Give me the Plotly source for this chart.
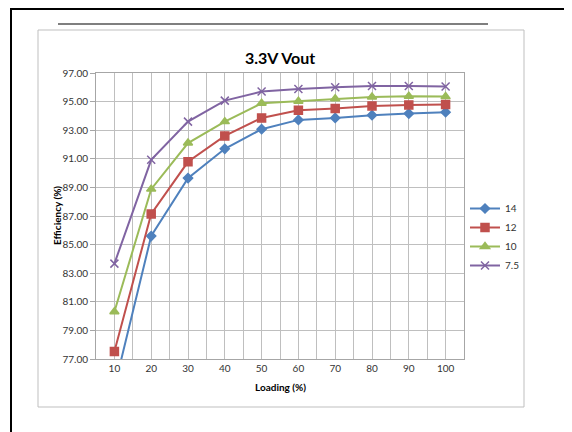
import plotly.graph_objects as go

loading = [10, 20, 30, 40, 50, 60, 70, 80, 90, 100]
series_names = ["14", "12", "10", "7.5"]
eff_14 = [75.0, 85.60, 89.65, 91.70, 93.07, 93.72, 93.86, 94.05, 94.16, 94.26]
eff_12 = [77.53, 87.14, 90.79, 92.60, 93.86, 94.40, 94.51, 94.70, 94.77, 94.79]
eff_10 = [80.30, 88.88, 92.10, 93.60, 94.88, 95.02, 95.20, 95.33, 95.37, 95.35]
eff_75 = [83.67, 90.93, 93.60, 95.07, 95.70, 95.88, 96.00, 96.09, 96.09, 96.05]
y_ticks = [77, 79, 81, 83, 85, 87, 89, 91, 93, 95, 97]

colors = ["#4F81BD", "#C0504D", "#9BBB59", "#8064A2"]
symbols = ["diamond", "square", "triangle-up", "x-thin-open"]
sizes = [7, 8, 8, 8]

# page has an 8px body margin; work in page coordinates and convert
OFF = 8
W, H = 572 - OFF, 432 - OFF
L, R, T, B = 96 - OFF, 464 - OFF, 73 - OFF, 359 - OFF

def px(x):
    return (x - OFF - L) / (R - L)

def py(y):
    return (B - (y - OFF)) / (B - T)

fig = go.Figure()
for name, vals, c, s, sz in zip(series_names, [eff_14, eff_12, eff_10, eff_75], colors, symbols, sizes):
    fig.add_trace(go.Scatter(
        x=loading, y=vals, name=name, mode="lines+markers",
        line=dict(color=c, width=2),
        marker=dict(symbol=s, size=sz, color=c, line=dict(color=c, width=1.5)),
        cliponaxis=True,
    ))

font = "Lato, 'DejaVu Sans', sans-serif"
fig.update_layout(
    width=W, height=H,
    margin=dict(l=L, r=W - R, t=T, b=H - B),
    paper_bgcolor="white", plot_bgcolor="white",
    font=dict(family=font, size=10, color="#333333"),
    showlegend=True,
    legend=dict(x=px(465), y=py(194), xanchor="left", yanchor="top",
                font=dict(size=10, color="#333333"), bgcolor="rgba(0,0,0,0)",
                itemwidth=30, tracegroupgap=0),
    xaxis=dict(range=[5, 105], tickvals=loading, ticktext=[str(v) for v in loading],
               showgrid=True, gridcolor="#BFBFBF", gridwidth=1,
               minor=dict(dtick=5, tick0=5, showgrid=True, gridcolor="#BFBFBF", gridwidth=1),
               showline=True, linecolor="#A6A6A6", mirror=True, ticks="",
               zeroline=False, tickfont=dict(size=10)),
    yaxis=dict(range=[77, 97], tickvals=y_ticks, tickformat=".2f",
               showgrid=True, gridcolor="#BFBFBF", gridwidth=1,
               showline=True, linecolor="#A6A6A6", mirror=True,
               ticks="outside", ticklen=5, tickcolor="#A6A6A6",
               zeroline=False, tickfont=dict(size=10)),
    annotations=[
        dict(text="<b>3.3V Vout</b>", x=px(280), y=py(58), xref="paper", yref="paper",
             showarrow=False, font=dict(size=16, color="#000000"), xanchor="center", yanchor="middle"),
        dict(text="<b>Efficiency (%)</b>", x=px(57), y=py(216), xref="paper", yref="paper",
             showarrow=False, textangle=-90, font=dict(size=10, color="#000000"),
             xanchor="center", yanchor="middle"),
        dict(text="<b>Loading (%)</b>", x=px(280), y=py(387), xref="paper", yref="paper",
             showarrow=False, font=dict(size=10, color="#000000"), xanchor="center", yanchor="middle"),
    ],
    shapes=[
        dict(type="rect", xref="paper", yref="paper", x0=px(11), x1=px(570), y0=py(9), y1=py(445),
             line=dict(color="#000000", width=2), layer="below"),
        dict(type="rect", xref="paper", yref="paper", x0=px(38), x1=px(524), y0=py(30), y1=py(407),
             line=dict(color="#BFBFBF", width=1), layer="below"),
        dict(type="line", xref="paper", yref="paper", x0=px(58), x1=px(488), y0=py(24), y1=py(24),
             line=dict(color="#555555", width=1.5)),
    ],
)

fig.write_html("out.html")
